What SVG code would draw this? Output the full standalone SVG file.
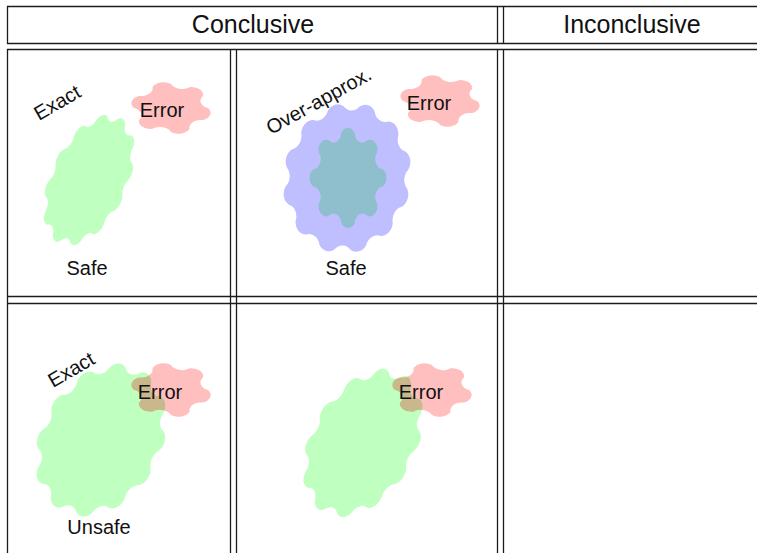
<svg xmlns="http://www.w3.org/2000/svg" xmlns:xlink="http://www.w3.org/1999/xlink" width="757" height="553" viewBox="0 0 757 553">
<style>
.ln{stroke:#1c1c1c;stroke-width:1.3;fill:none}
.hd{font-family:"Liberation Sans",Arial,sans-serif;font-size:25px;fill:#111;text-anchor:middle}
.tx{font-family:"Liberation Sans",Arial,sans-serif;font-size:20px;fill:#111}
.mid{text-anchor:middle}
.green{fill:#bfffbf}
.red{fill:#ffbfbf}
.blue{fill:#bfbfff}
.teal{fill:#8fbfcc}
.tan{fill:#c8b88c}
</style>
<defs>
<path id="w12" d="M50,0 A9,9 0 0 1 48.30,12.94 A9,9 0 0 0 43.30,25 A9,9 0 0 1 35.36,35.36 A9,9 0 0 0 25,43.30 A9,9 0 0 1 12.94,48.30 A9,9 0 0 0 0,50 A9,9 0 0 1 -12.94,48.30 A9,9 0 0 0 -25,43.30 A9,9 0 0 1 -35.36,35.36 A9,9 0 0 0 -43.30,25 A9,9 0 0 1 -48.30,12.94 A9,9 0 0 0 -50,0 A9,9 0 0 1 -48.30,-12.94 A9,9 0 0 0 -43.30,-25 A9,9 0 0 1 -35.36,-35.36 A9,9 0 0 0 -25,-43.30 A9,9 0 0 1 -12.94,-48.30 A9,9 0 0 0 0,-50 A9,9 0 0 1 12.94,-48.30 A9,9 0 0 0 25,-43.30 A9,9 0 0 1 35.36,-35.36 A9,9 0 0 0 43.30,-25 A9,9 0 0 1 48.30,-12.94 A9,9 0 0 0 50,0 Z"/>
<path id="w8" d="M50,0 A11,11 0 0 1 46.19,19.13 A11,11 0 0 0 35.36,35.36 A11,11 0 0 1 19.13,46.19 A11,11 0 0 0 0,50 A11,11 0 0 1 -19.13,46.19 A11,11 0 0 0 -35.36,35.36 A11,11 0 0 1 -46.19,19.13 A11,11 0 0 0 -50,0 A11,11 0 0 1 -46.19,-19.13 A11,11 0 0 0 -35.36,-35.36 A11,11 0 0 1 -19.13,-46.19 A11,11 0 0 0 0,-50 A11,11 0 0 1 19.13,-46.19 A11,11 0 0 0 35.36,-35.36 A11,11 0 0 1 46.19,-19.13 A11,11 0 0 0 50,0 Z"/>
<path id="w6" d="M50,0 A16,16 0 0 1 43.30,25 A16,16 0 0 0 25,43.30 A16,16 0 0 1 0,50 A16,16 0 0 0 -25,43.30 A16,16 0 0 1 -43.30,25 A16,16 0 0 0 -50,0 A16,16 0 0 1 -43.30,-25 A16,16 0 0 0 -25,-43.30 A16,16 0 0 1 0,-50 A16,16 0 0 0 25,-43.30 A16,16 0 0 1 43.30,-25 A16,16 0 0 0 50,0 Z"/>
<clipPath id="clipG3">
<use xlink:href="#w12" href="#w12" transform="translate(101,440) rotate(30) scale(1.15,1.55)"/>
</clipPath>
<clipPath id="clipG4">
<use xlink:href="#w12" href="#w12" transform="translate(363,443) rotate(30) scale(1.0,1.53)"/>
</clipPath>
</defs>
<rect width="757" height="553" fill="#fff"/>

<g id="grid">
<line class="ln" x1="7" y1="6.5" x2="757" y2="6.5"/>
<line class="ln" x1="7" y1="43.5" x2="757" y2="43.5"/>
<line class="ln" x1="7.5" y1="6" x2="7.5" y2="44"/>
<line class="ln" x1="497.5" y1="6" x2="497.5" y2="44"/>
<line class="ln" x1="503.5" y1="6" x2="503.5" y2="44"/>
<line class="ln" x1="7" y1="49.5" x2="757" y2="49.5"/>
<line class="ln" x1="7" y1="296.5" x2="757" y2="296.5"/>
<line class="ln" x1="7" y1="303.5" x2="757" y2="303.5"/>
<line class="ln" x1="7.5" y1="49" x2="7.5" y2="553"/>
<line class="ln" x1="230.5" y1="49" x2="230.5" y2="553"/>
<line class="ln" x1="236.5" y1="49" x2="236.5" y2="553"/>
<line class="ln" x1="497.5" y1="49" x2="497.5" y2="553"/>
<line class="ln" x1="503.5" y1="49" x2="503.5" y2="553"/>
</g>

<g id="header-conclusive"><text class="hd" x="253" y="33">Conclusive</text></g>
<g id="header-inconclusive"><text class="hd" x="632" y="33">Inconclusive</text></g>

<g id="cell-exact-safe">
<use class="green" xlink:href="#w12" href="#w12" transform="translate(89,180) rotate(25) scale(0.74,1.34)"/>
<use class="red" xlink:href="#w6" href="#w6" transform="translate(171,108) scale(0.74,0.48)"/>
<text class="tx mid" x="162" y="117">Error</text>
<text class="tx" transform="translate(39,121) rotate(-30)">Exact</text>
<text class="tx mid" x="87" y="275">Safe</text>
</g>

<g id="cell-overapprox-safe">
<use class="blue" xlink:href="#w12" href="#w12" transform="translate(347,178) rotate(10) scale(1.22,1.45)"/>
<use class="teal" xlink:href="#w8" href="#w8" transform="translate(348,178) scale(0.7,0.91) rotate(-11.25)"/>
<use class="red" xlink:href="#w6" href="#w6" transform="translate(440,101) scale(0.74,0.48)"/>
<text class="tx mid" x="429" y="110">Error</text>
<text class="tx" transform="translate(271,135) rotate(-29)">Over-approx.</text>
<text class="tx mid" x="346" y="275">Safe</text>
</g>

<g id="cell-exact-unsafe">
<use class="red" xlink:href="#w6" href="#w6" transform="translate(171,390) scale(0.74,0.5)"/>
<use class="green" xlink:href="#w12" href="#w12" transform="translate(101,440) rotate(30) scale(1.15,1.55)"/>
<g clip-path="url(#clipG3)"><use class="tan" xlink:href="#w6" href="#w6" transform="translate(171,390) scale(0.74,0.5)"/></g>
<text class="tx mid" x="160" y="399">Error</text>
<text class="tx" transform="translate(53,388) rotate(-30)">Exact</text>
<text class="tx mid" x="99" y="534">Unsafe</text>
</g>

<g id="cell-unsafe-2">
<use class="red" xlink:href="#w6" href="#w6" transform="translate(432,390) scale(0.74,0.5)"/>
<use class="green" xlink:href="#w12" href="#w12" transform="translate(363,443) rotate(30) scale(1.0,1.53)"/>
<g clip-path="url(#clipG4)"><use class="tan" xlink:href="#w6" href="#w6" transform="translate(432,390) scale(0.74,0.5)"/></g>
<text class="tx mid" x="421" y="399">Error</text>
</g>

<g id="connectors"/>
</svg>
